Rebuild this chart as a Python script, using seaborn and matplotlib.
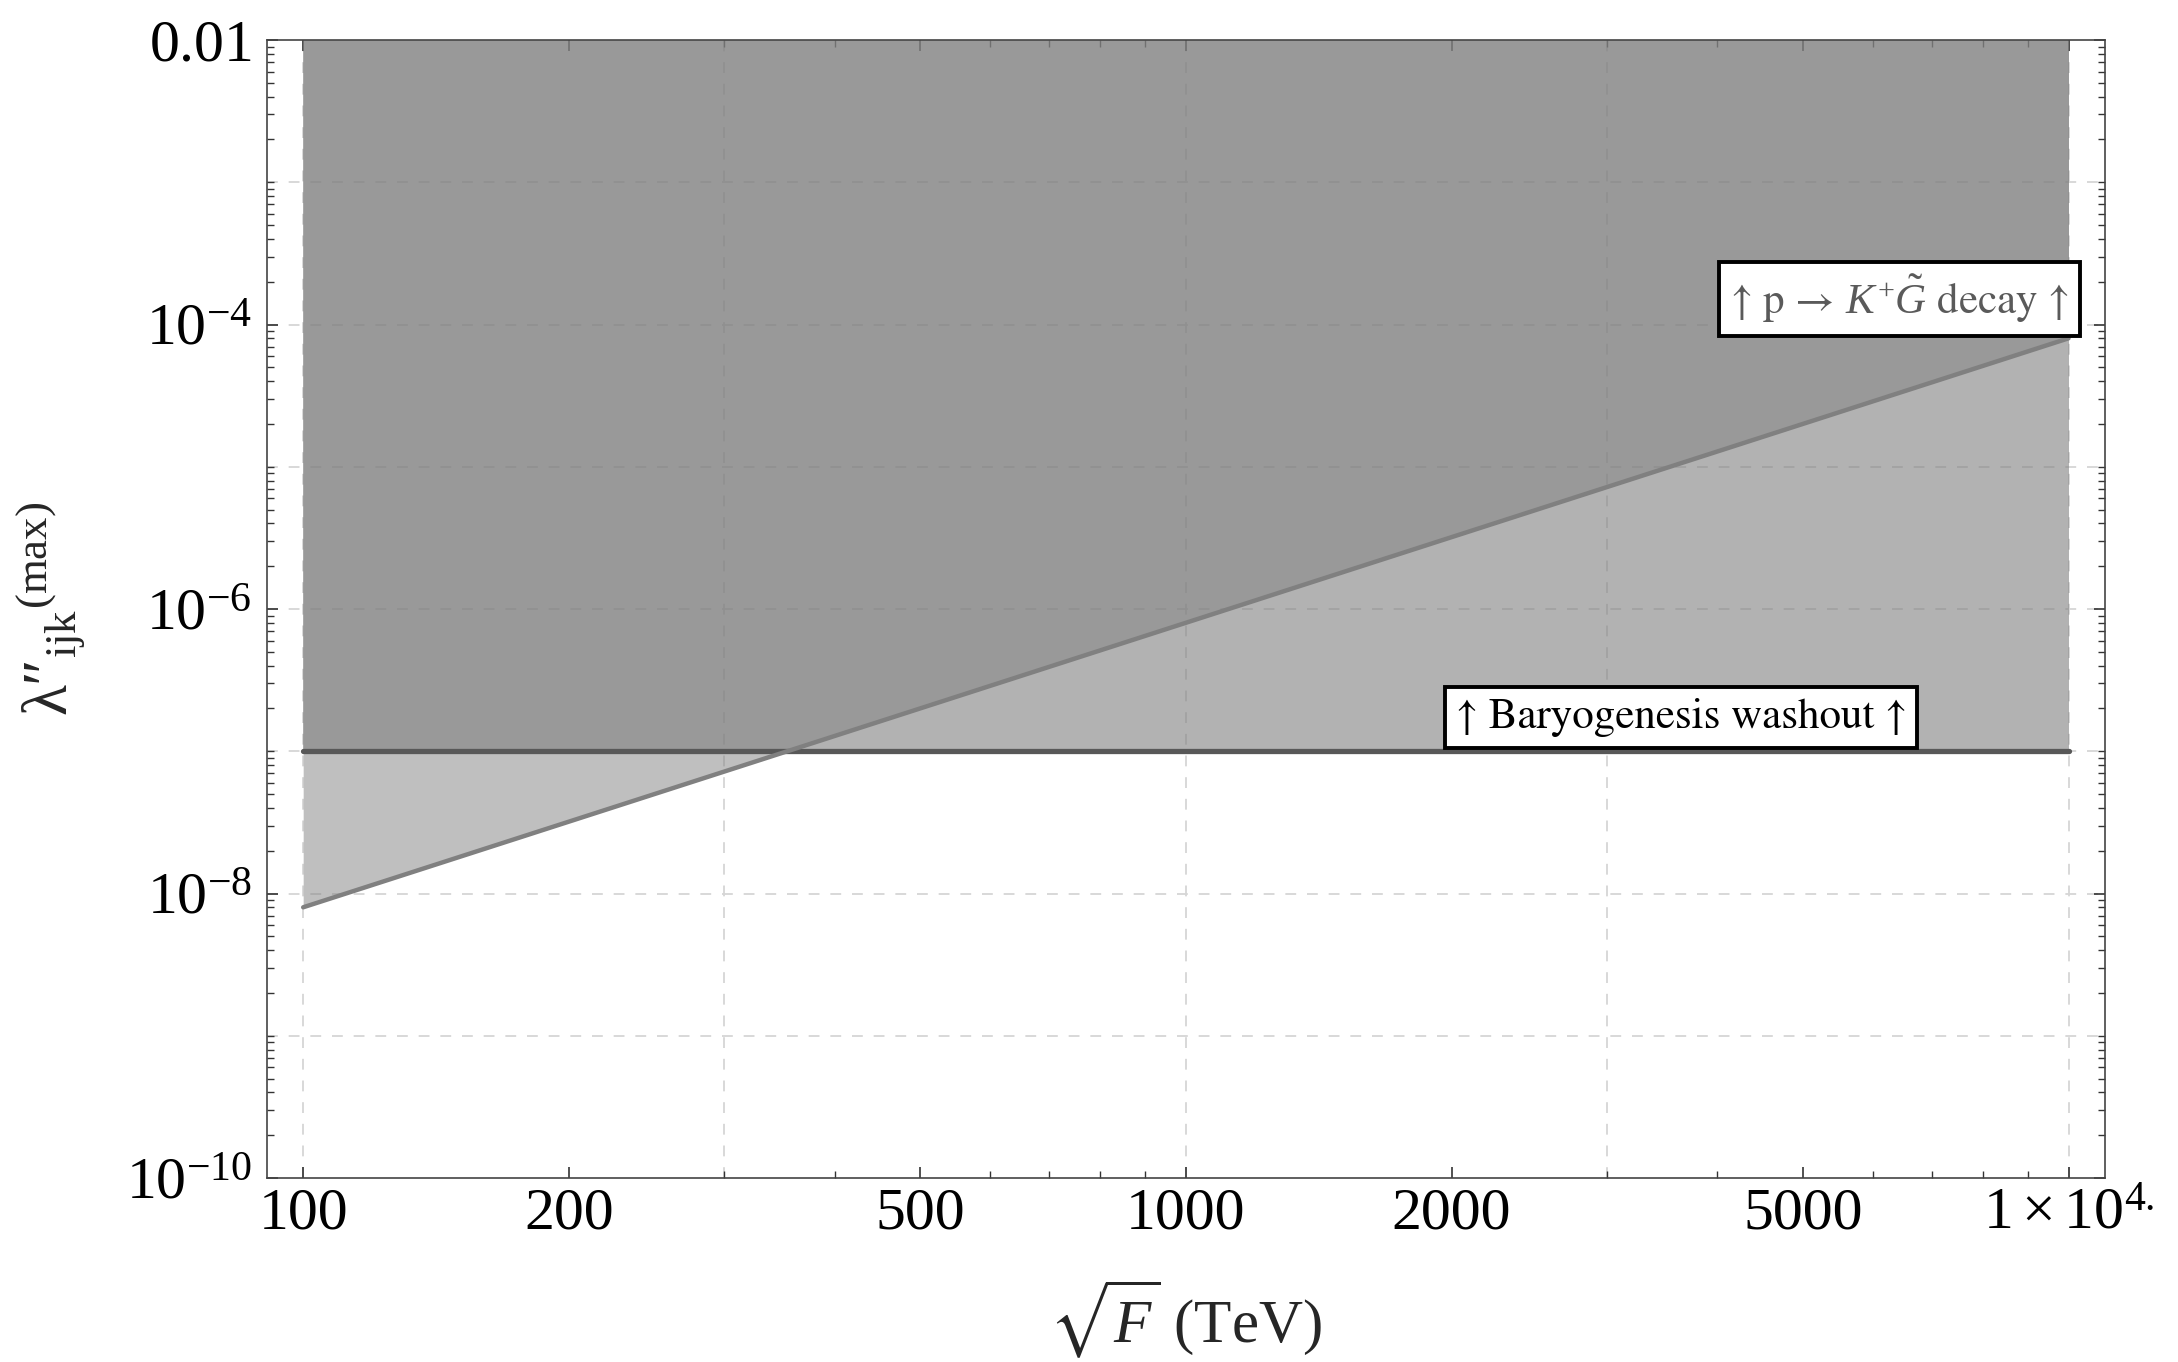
import matplotlib
matplotlib.use("Agg")
import matplotlib.pyplot as plt
import seaborn as sns
import pandas as pd
from matplotlib.ticker import FixedLocator, NullFormatter

# Bounds on the RPV coupling versus the SUSY-breaking scale
sqrtF_TeV = [100, 10000]
lam_decay = [8.0e-9, 8.0e-5]        # p -> K+ gravitino decay bound
lam_washout = [1.0e-7, 1.0e-7]      # baryogenesis washout bound

x_major = [100, 200, 500, 1000, 2000, 5000, 10000]
x_major_labels = ["100", "200", "500", "1000", "2000", "5000", r"$1\times10^{4.}$"]
x_minor = [300, 400, 600, 700, 800, 900, 3000, 4000, 6000, 7000, 8000, 9000]
y_major = [1e-2, 1e-4, 1e-6, 1e-8, 1e-10]
y_major_labels = [r"$0.01$", r"$10^{-4}$", r"$10^{-6}$", r"$10^{-8}$", r"$10^{-10}$"]
x_grid = [100, 300, 1000, 3000, 10000]
y_grid = [1e-3, 1e-4, 1e-5, 1e-6, 1e-7, 1e-8, 1e-9]

sns.set_theme(style="ticks")
plt.rcParams["font.family"] = ["Liberation Serif", "DejaVu Serif"]
plt.rcParams["mathtext.fontset"] = "custom"
plt.rcParams["mathtext.rm"] = "Liberation Serif"
plt.rcParams["mathtext.it"] = "Liberation Serif:italic"
plt.rcParams["mathtext.bf"] = "Liberation Serif:bold"
plt.rcParams["mathtext.fallback"] = "stix"

df = pd.DataFrame({"sqrtF": sqrtF_TeV, "decay": lam_decay, "washout": lam_washout})

fig = plt.figure(figsize=(21.78, 13.62), dpi=100)
ax = fig.add_axes([0.1226, 0.1351, 0.8439, 0.8355])
ax.set_xscale("log")
ax.set_yscale("log")

# dashed background grid
for gx in x_grid:
    ax.axvline(gx, color="#d6d6d6", lw=1.3, ls=(0, (6, 6)), zorder=0.5)
for gy in y_grid:
    ax.axhline(gy, color="#d6d6d6", lw=1.3, ls=(0, (6, 6)), zorder=0.5)

# excluded regions (translucent, overlapping)
ax.fill_between(df["sqrtF"], df["decay"], 1e-2, color="#808080", alpha=0.5, lw=0, zorder=1)
ax.fill_between(df["sqrtF"], df["washout"], 1e-2, color="#808080", alpha=0.6, lw=0, zorder=1)

sns.lineplot(data=df, x="sqrtF", y="washout", color="#585858", lw=3.8, ax=ax, zorder=3)
sns.lineplot(data=df, x="sqrtF", y="decay", color="#808080", lw=3.2, ax=ax, zorder=4)

ax.set_xlim(91, 11000)
ax.set_ylim(1e-10, 1e-2)

ax.xaxis.set_major_locator(FixedLocator(x_major))
ax.set_xticklabels(x_major_labels)
ax.xaxis.set_minor_locator(FixedLocator(x_minor))
ax.xaxis.set_minor_formatter(NullFormatter())

y_minor = []
for e in range(-10, -2):
    for k in range(1, 10):
        v = k * 10.0 ** e
        if v not in y_major:
            y_minor.append(v)
ax.yaxis.set_major_locator(FixedLocator(y_major))
ax.set_yticklabels(y_major_labels)
ax.yaxis.set_minor_locator(FixedLocator(y_minor))
ax.yaxis.set_minor_formatter(NullFormatter())

ax.tick_params(which="both", direction="in", top=True, right=True, color="#333333",
               labelsize=43, labelcolor="black")
ax.tick_params(axis="x", which="both", pad=7)
ax.tick_params(axis="y", which="both", pad=11)
ax.tick_params(which="major", length=8, width=1.2)
ax.tick_params(which="minor", length=5, width=1.0)

for sp in ax.spines.values():
    sp.set_color("#444444")
    sp.set_linewidth(1.2)

ax.set_xlabel(r"$\sqrt{F}$ (TeV)", fontsize=44)
ax.set_ylabel("$\\mathrm{λ″}_{\\mathrm{ijk}}{}^{\\mathrm{(max)}}$", fontsize=46)
ax.xaxis.set_label_coords(0.5, -0.088)
ax.yaxis.set_label_coords(-0.098, 0.5)

box = dict(boxstyle="square,pad=0.25", fc="white", ec="black", lw=2.8)
ax.text(6430, 1.52e-4, "↑ p → $K^{+}\\tilde{G}$ decay ↑", family="STIXGeneral",
        ha="center", va="center", fontsize=31, color="#5a5a5a", bbox=box, zorder=6)
ax.text(3640, 1.73e-7, "↑ Baryogenesis washout ↑", family="STIXGeneral",
        ha="center", va="center", fontsize=31, color="black", bbox=box, zorder=6)

fig.savefig("out.png", dpi=100)
